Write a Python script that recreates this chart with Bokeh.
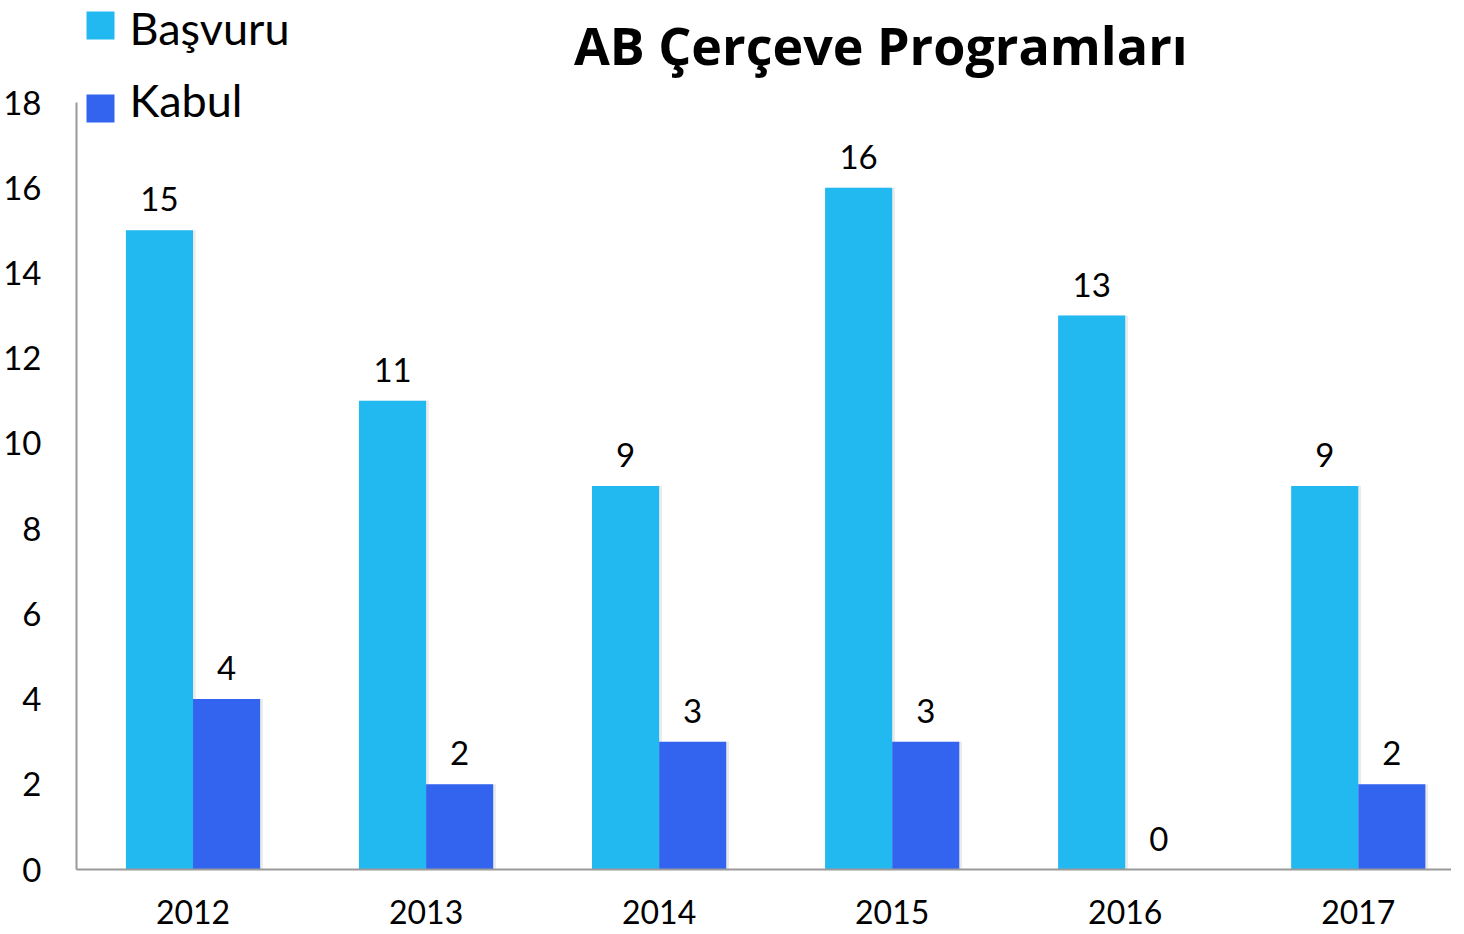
from bokeh.plotting import figure
from bokeh.models import FixedTicker, ColumnDataSource
from bokeh.core.properties import value
from bokeh.embed import file_html
from bokeh.resources import INLINE

years = ["2012", "2013", "2014", "2015", "2016", "2017"]
basvuru = [15, 11, 9, 16, 13, 9]
kabul = [4, 2, 3, 3, 0, 2]
y_ticks = [0, 2, 4, 6, 8, 10, 12, 14, 16, 18]
series_names = ["Başvuru", "Kabul"]
title_text = "AB Çerçeve Programları"

FONT = "Lato"
C1 = "#22B9F1"
C2 = "#3364F0"

xs = list(range(len(years)))
w = 0.288
src = ColumnDataSource(dict(
    x1=[x - w / 2 for x in xs], x2=[x + w / 2 for x in xs],
    b=basvuru, k=kabul,
    bt=[str(v) for v in basvuru], kt=[str(v) for v in kabul],
))

YMAX = 20.394
XMAX = 5.4
p = figure(width=1448, height=932, output_backend="svg", toolbar_location=None,
           x_range=(-0.5, XMAX), y_range=(0, YMAX),
           frame_width=1375, frame_height=869,
           min_border_left=73, min_border_right=0, min_border_top=0, min_border_bottom=63)
p.outline_line_color = None
p.grid.grid_line_color = None
p.background_fill_color = "white"

# soft shadow behind the bars
p.vbar(x=[x + 0.012 for x in src.data["x1"]], top=basvuru, width=w, bottom=-0.05,
       fill_color="#000000", fill_alpha=0.08, line_color=None)
p.vbar(x=[x + 0.012 for x in src.data["x2"]], top=kabul, width=w, bottom=-0.05,
       fill_color="#000000", fill_alpha=0.08, line_color=None)

p.vbar(x="x1", top="b", width=w, source=src, fill_color=C1, line_color=None)
p.vbar(x="x2", top="k", width=w, source=src, fill_color=C2, line_color=None)

for xcol, ycol, tcol in (("x1", "b", "bt"), ("x2", "k", "kt")):
    p.text(x=xcol, y=ycol, text=tcol, source=src, text_align="center",
           text_baseline="middle", y_offset=-31, text_font_size="33px",
           text_font=value(FONT), text_color="black")

p.xaxis.ticker = FixedTicker(ticks=xs)
p.xaxis.major_label_overrides = {i: y for i, y in enumerate(years)}
p.yaxis.ticker = FixedTicker(ticks=y_ticks)
p.yaxis.bounds = (0, 18)
for ax in (p.xaxis, p.yaxis):
    ax.axis_line_color = "#9a9a9a"
    ax.axis_line_width = 2
    ax.major_tick_line_color = None
    ax.minor_tick_line_color = None
    ax.major_label_text_font = FONT
    ax.major_label_text_color = "black"
p.xaxis.major_label_text_font_size = "32px"
p.yaxis.major_label_text_font_size = "33px"
p.xaxis.major_label_standoff = 24
p.yaxis.major_label_standoff = 29

# legend (drawn in the frame, above the y=18 line)
p.scatter(x=[-0.397, -0.397], y=[19.807, 17.859], marker="square", size=28,
          fill_color=[C1, C2], line_color=None)
p.text(x=[-0.2725, -0.2725], y=[19.76, 18.07], text=series_names,
       text_font=value(FONT), text_font_size="45px", text_baseline="middle",
       text_align="left", text_color="black")

# title
p.text(x=[2.951], y=[19.361], text=[title_text], text_font=value("Open Sans"),
       text_font_style="bold", text_font_size="52px", text_align="center",
       text_baseline="middle", text_color="black")

open("out.html", "w").write(file_html(p, INLINE))
